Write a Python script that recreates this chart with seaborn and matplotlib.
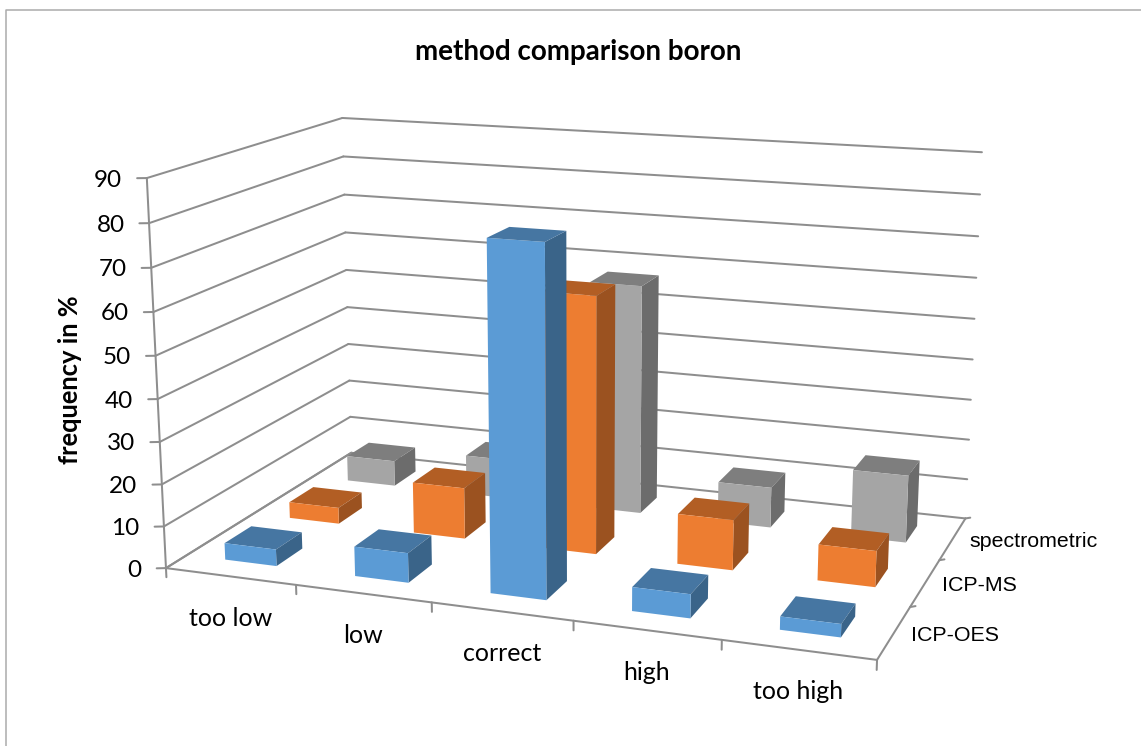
import numpy as np
import pandas as pd
import matplotlib
matplotlib.use("Agg")
import matplotlib.pyplot as plt
from matplotlib.lines import Line2D
from mpl_toolkits.mplot3d import proj3d
from mpl_toolkits.mplot3d.art3d import Line3DCollection
import seaborn as sns

categories = ["too low", "low", "correct", "high", "too high"]
series = ["ICP-OES", "ICP-MS", "spectrometric"]
icp_oes = [4, 7, 80, 5.5, 3]
icp_ms = [4, 12.5, 61.5, 12, 8.5]
spectrometric = [6.5, 10, 57, 10, 16.5]
z_ticks = [0, 10, 20, 30, 40, 50, 60, 70, 80, 90]
title = "method comparison boron"
z_label = "frequency in %"

front_colors = ["#5B9BD5", "#ED7D31", "#A5A5A5"]
top_colors = ["#4676A2", "#B25E24", "#7E7E7E"]
side_colors = ["#3A6489", "#9B5220", "#6C6C6C"]
GRID = "#8E8E8E"
W, H = 1141, 746

# Camera of the 3D box: box corners (category, series, value) -> picture pixels
box_world = np.array([
    [0, 0, 0], [0, 0, 30], [0, 0, 60], [0, 0, 90], [5, 0, 0],
    [0, 3, 10], [0, 3, 40], [0, 3, 90], [5, 3, 0], [5, 3, 40], [5, 3, 90],
], float)
box_pixel = np.array([
    [167, 568], [159, 442], [153, 312], [147, 178], [877, 660],
    [350, 417], [347, 307], [343, 118], [966, 518], [972, 360], [982, 152],
], float)


def fit_camera(world, pixel):
    rows, rhs = [], []
    for (x, y, z), (u, v) in zip(world, pixel):
        rows.append([x, y, z, 1, 0, 0, 0, 0, -u * x, -u * y, -u * z])
        rows.append([0, 0, 0, 0, x, y, z, 1, -v * x, -v * y, -v * z])
        rhs += [u, v]
    p = np.linalg.lstsq(np.array(rows), np.array(rhs), rcond=None)[0]
    row_u, row_v, row_w = p[:4], p[4:8], np.r_[p[8:], 1.0]
    return np.vstack([row_u, row_v, row_w - [0, 0, 0, 1], row_w])


df = pd.DataFrame({"ICP-OES": icp_oes, "ICP-MS": icp_ms, "spectrometric": spectrometric},
                  index=categories)

sns.set_theme(style="white", rc={"axes.grid": False, "text.color": "black"})
plt.rcParams["font.family"] = ["Lato", "DejaVu Sans"]

fig = plt.figure(figsize=(W / 100, H / 100), dpi=100, facecolor="white")
ax = fig.add_axes([0, 0, 1, 1], projection="3d", computed_zorder=False)
ax.set_axis_off()
camera = fit_camera(box_world, box_pixel)
ax.get_proj = lambda: camera
ax.apply_aspect = lambda position=None: None
ax.viewLim.intervalx = (0, W)
ax.viewLim.intervaly = (H, 0)


def label(x, y, z, dx, dy, text, **kw):
    """Real 2D text placed at a box position, shifted by a few pixels."""
    u, v, _ = proj3d.proj_transform(x, y, z, camera)
    fig.text((float(u) + dx) / W, 1 - (float(v) + dy) / H, text, **kw)


n_x, n_y = len(categories), len(series)
segments = []

# walls
for v in z_ticks:
    segments.append([(0, 0, v), (0, n_y, v)])
    segments.append([(0, n_y, v), (n_x, n_y, v)])
    segments.append([(0, 0, v), (-0.058, -0.026, v)])
    label(0, 0, v, -24.5, 2, str(v), ha="right", va="center", fontsize=17.5)
segments.append([(0, 0, 0), (0, 0, z_ticks[-1])])

# floor
segments.append([(0, 0, 0), (n_x, 0, 0)])
segments.append([(n_x, 0, 0), (n_x, n_y, 0)])
segments.append([(0, 0, 0), (0, n_y, 0)])
for i in range(n_x + 1):
    segments.append([(i, 0, 0), (i, 0, -2.2)])
for j in range(1, n_y + 1):
    segments.append([(n_x, j, 0), (n_x + 0.03, j + 0.03, 0)])
ax.add_collection3d(Line3DCollection(segments, colors=GRID, linewidths=1.45, zorder=1,
                                     capstyle="round"))

# bars, back row first
bar_w, bar_d = 0.40, 0.40
clear = (0, 0, 0, 0)
for j in range(n_y - 1, -1, -1):
    for i, cat in enumerate(categories):
        faces = [clear, top_colors[j], front_colors[j], clear, clear, side_colors[j]]
        ax.bar3d([i + 0.5 - bar_w / 2], [j + 0.5 - bar_d / 2], [0], [bar_w], [bar_d],
                 [df.iloc[i, j]], color=faces, shade=False, linewidth=0,
                 zorder=10 + 10 * (n_y - j) + i)

# labels
for i, cat in enumerate(categories):
    label(i + 0.5, 0, 0, 0, 42, cat, ha="center", va="center", fontsize=18)
for j, s in enumerate(series):
    label(n_x, j + 0.5, 0, 17, 3, s, ha="left", va="center", fontsize=15.4,
          family=["Liberation Sans"])

fig.text(578 / W, 1 - 52 / H, title, ha="center", va="center", fontsize=20, fontweight="bold")
fig.text(70 / W, 1 - 380 / H, z_label, ha="center", va="center", rotation=90,
         fontsize=18.4, fontweight="bold")

frame = dict(color="#ABABAB", lw=1.1, transform=fig.transFigure)
fig.add_artist(Line2D([5.5 / W, 5.5 / W, 1], [0, 1 - 10 / H, 1 - 10 / H], **frame))

fig.savefig("out.png", dpi=100)
